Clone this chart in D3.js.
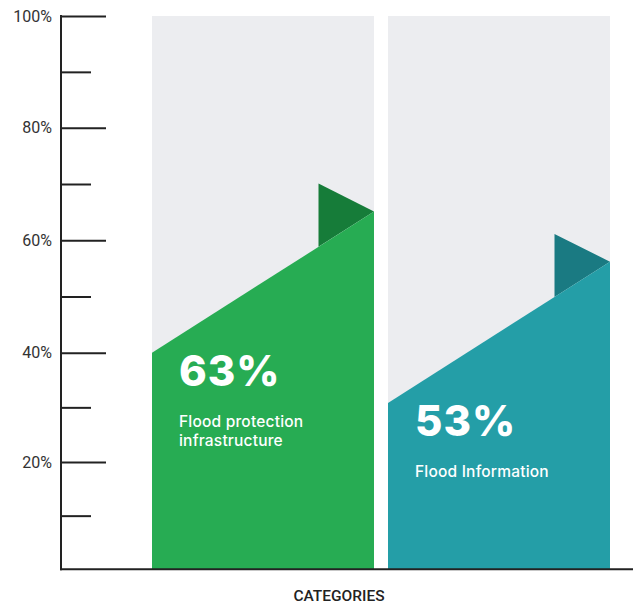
<!DOCTYPE html>
<html>
<head>
<meta charset="utf-8">
<script src="https://cdn.jsdelivr.net/npm/d3@7"></script>
<style>
  html, body { margin: 0; padding: 0; background: #fff; }
  svg { display: block; }
</style>
</head>
<body>
<svg id="chart" width="638" height="605"></svg>
<script>
// ---- Data ----
const categories = ["Flood protection infrastructure", "Flood Information"];
const labelLines = [["Flood protection", "infrastructure"], ["Flood Information"]];
const values = [63, 53];                 // headline percentages
const shapeLeft = [40, 30.8];            // top of slanted shape at left edge (%)
const shapeRight = [65.1, 56.2];         // top of slanted shape at right edge (%)
const flagTop = [70.1, 61.1];            // top of the flag (%)
const majorTicks = [20, 40, 60, 80, 100];
const minorTicks = [10, 30, 50, 70, 90];
const tickLabels = ["20%", "40%", "60%", "80%", "100%"];
const fillColors = ["#27ac53", "#249ea7"];
const flagColors = ["#167c39", "#1a7a82"];
const axisTitle = "CATEGORIES";

// ---- Scales ----
const svg = d3.select("#chart");
// the printed axis is slightly uneven; a piecewise-linear scale follows its gridlines
const y = d3.scaleLinear().domain([0, 20, 40, 60, 80, 100]).range([569.3, 462, 352.7, 240.3, 127.7, 16]);
const x = d3.scaleBand().domain(categories).range([152, 610]).paddingInner(14 / 236).paddingOuter(0);
const bw = x.bandwidth();
const flagFrac = 0.25;

// background columns
svg.append("g").selectAll("rect").data(categories).join("rect")
  .attr("x", d => x(d)).attr("y", y(100))
  .attr("width", bw).attr("height", y(0) - y(100))
  .attr("fill", "#ecedf0");

// flags (behind main shape)
svg.append("g").selectAll("path").data(categories).join("path")
  .attr("d", (d, i) => {
    const x1 = x(d) + bw, x0 = x1 - bw * flagFrac;
    const yL = y(shapeLeft[i]), yR = y(shapeRight[i]);
    const yAt = yR + (yL - yR) * (flagFrac);
    return `M${x0},${y(flagTop[i])}L${x1},${yR}L${x0},${yAt}Z`;
  })
  .attr("fill", (d, i) => flagColors[i]);

// main slanted shapes
svg.append("g").selectAll("path").data(categories).join("path")
  .attr("d", (d, i) => {
    const x0 = x(d), x1 = x(d) + bw;
    return `M${x0},${y(0)}L${x0},${y(shapeLeft[i])}L${x1},${y(shapeRight[i])}L${x1},${y(0)}Z`;
  })
  .attr("fill", (d, i) => fillColors[i]);

// value text
const txt = svg.append("g").selectAll("g").data(categories).join("g")
  .attr("transform", (d, i) => `translate(${x(d) + 27},0)`);
txt.append("text")
  .attr("y", (d, i) => y(shapeLeft[i]) + 33)
  .attr("fill", "#fff")
  .attr("font-family", "Inter, Roboto, sans-serif")
  .attr("font-weight", 800)
  .attr("font-size", 42)
  .attr("letter-spacing", 1)
  .text((d, i) => values[i] + "%");
txt.each(function (d, i) {
  const g = d3.select(this);
  labelLines[i].forEach((line, j) => {
    g.append("text")
      .attr("y", y(shapeLeft[i]) + 74 + j * 19.5)
      .attr("fill", "#fff")
      .attr("font-family", "Inter, Roboto, sans-serif")
      .attr("font-weight", 500)
      .attr("font-size", 15.5)
      .attr("letter-spacing", 0.2)
      .text(line);
  });
});

// axes
const axisG = svg.append("g").attr("transform", "translate(61,0)");
axisG.append("g").call(d3.axisRight(y).tickValues(majorTicks).tickSize(45).tickFormat(""))
  .call(g => g.select(".domain").remove())
  .call(g => g.selectAll("line").attr("stroke", "#222").attr("stroke-width", 2));
axisG.append("g").call(d3.axisRight(y).tickValues(minorTicks).tickSize(30).tickFormat(""))
  .call(g => g.select(".domain").remove())
  .call(g => g.selectAll("line").attr("stroke", "#222").attr("stroke-width", 2));
axisG.append("line").attr("x1", 0).attr("x2", 0).attr("y1", y(100) - 1).attr("y2", y(0) + 1)
  .attr("stroke", "#222").attr("stroke-width", 2);
svg.append("line").attr("x1", 60).attr("x2", 633).attr("y1", y(0)).attr("y2", y(0))
  .attr("stroke", "#222").attr("stroke-width", 2);

svg.append("g").selectAll("text").data(majorTicks).join("text")
  .attr("x", 52).attr("y", d => y(d)).attr("dy", "0.36em")
  .attr("text-anchor", "end")
  .attr("font-family", "Roboto, sans-serif")
  .attr("font-size", 16)
  .attr("fill", "#333")
  .text((d, i) => tickLabels[i]);

svg.append("text").attr("x", 339).attr("y", 600.5).attr("text-anchor", "middle")
  .attr("font-family", "Roboto, sans-serif").attr("font-weight", 500).attr("font-size", 15.5)
  .attr("fill", "#222").text(axisTitle);
</script>
</body>
</html>
